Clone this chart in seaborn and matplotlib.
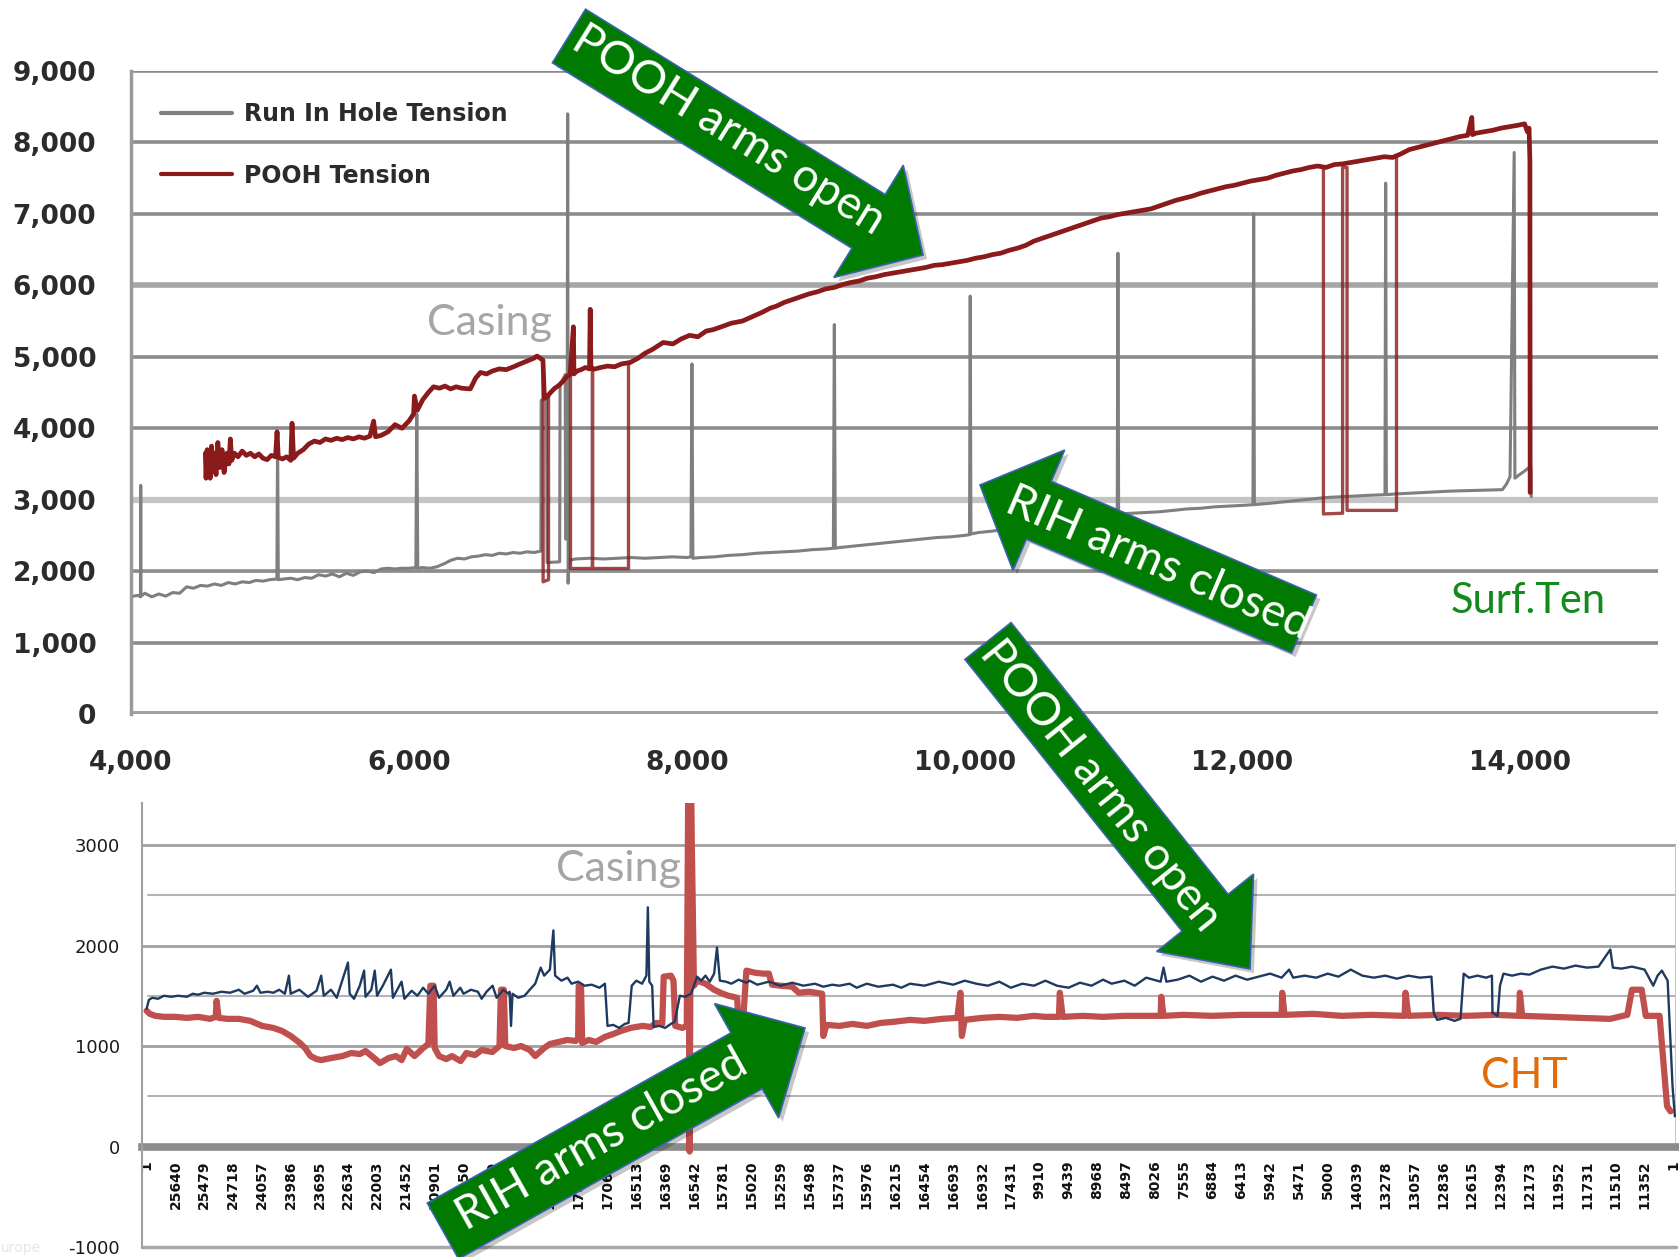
import numpy as np
import pandas as pd
import matplotlib
matplotlib.use("Agg")
import matplotlib.pyplot as plt
from matplotlib.patches import Polygon
from matplotlib.lines import Line2D
import seaborn as sns

# ---------------- data: top chart (tension vs depth) ----------------
rih_depth = [4020, 4050, 4068, 4070, 4072, 4100, 4150, 4200, 4250, 4300, 4350, 4400, 4450, 4500,
             4550, 4600, 4650, 4700, 4750, 4800, 4850, 4900, 4950, 5000, 5050, 5055, 5060, 5100,
             5150, 5200, 5250, 5300, 5350, 5400, 5450, 5500, 5550, 5600, 5650, 5700, 5750, 5800,
             5850, 5900, 5950, 6000, 6050, 6057, 6064, 6100, 6150, 6200, 6250, 6300, 6350, 6400,
             6450, 6500, 6550, 6600, 6650, 6700, 6750, 6800, 6850, 6900, 6950, 6952, 6990, 6995,
             7085, 7088, 7125, 7128, 7138, 7143, 7146, 7150, 7200, 7300, 7400, 7500, 7600, 7700,
             7800, 7900, 8000, 8030, 8037, 8044, 8100, 8200, 8300, 8400, 8500, 8600, 8700, 8800,
             8900, 9000, 9055, 9062, 9069, 9100, 9200, 9300, 9400, 9500, 9600, 9700, 9800, 9900,
             10000, 10035, 10040, 10045, 10100, 10200, 10300, 10400, 10500, 10600, 10700, 10800,
             10900, 11000, 11098, 11103, 11108, 11200, 11300, 11400, 11500, 11600, 11700, 11800,
             11900, 12000, 12075, 12080, 12085, 12200, 12300, 12400, 12500, 12600, 12700, 12800,
             12900, 13025, 13030, 13035, 13100, 13200, 13300, 13400, 13500, 13600, 13700, 13800,
             13870, 13900, 13925, 13955, 13960, 14000, 14030, 14060, 14075, 14078]
rih_tension = [1650, 1660, 1640, 3200, 1650, 1690, 1640, 1680, 1650, 1700, 1690, 1780, 1760, 1800,
               1790, 1820, 1800, 1840, 1820, 1850, 1840, 1870, 1860, 1880, 1890, 3950, 1880, 1890,
               1900, 1880, 1910, 1900, 1950, 1930, 1960, 1920, 1970, 1940, 1990, 2000, 1980, 2030,
               2040, 2030, 2040, 2040, 2050, 4200, 2040, 2050, 2040, 2060, 2100, 2150, 2180, 2170,
               2200, 2210, 2230, 2220, 2250, 2240, 2260, 2250, 2270, 2260, 2280, 4390, 4420, 2120,
               2130, 4600, 4750, 2450, 2450, 8400, 1830, 2150, 2170, 2180, 2170, 2180, 2190, 2180,
               2190, 2200, 2190, 2200, 4900, 2180, 2190, 2200, 2220, 2230, 2250, 2260, 2270, 2280,
               2300, 2310, 2320, 5450, 2320, 2330, 2350, 2370, 2390, 2410, 2430, 2450, 2470, 2480,
               2500, 2510, 5850, 2520, 2540, 2560, 2590, 2620, 2660, 2680, 2710, 2740,
               2760, 2780, 2800, 6450, 2800, 2810, 2820, 2830, 2850, 2870, 2880, 2900,
               2910, 2920, 2930, 7000, 2930, 2950, 2970, 2990, 3010, 3030, 3040, 3050,
               3060, 3070, 7430, 3070, 3080, 3090, 3100, 3110, 3120, 3125, 3130, 3135,
               3140, 3220, 3320, 7860, 3300, 3360, 3400, 3450, 3450, 3040]

pooh_depth = [4535, 4540, 4548, 4555, 4562, 4570, 4580, 4590, 4600, 4612, 4625, 4640, 4655, 4670,
              4690, 4705, 4715, 4725, 4745, 4770, 4800, 4830, 4860, 4890, 4920, 4950, 4980, 5010,
              5040, 5051, 5060, 5090, 5120, 5150, 5159, 5170, 5200, 5240, 5280, 5320, 5360, 5400,
              5440, 5480, 5520, 5560, 5600, 5640, 5680, 5720, 5746, 5760, 5800, 5850, 5900, 5950,
              6000, 6034, 6040, 6060, 6100, 6140, 6177, 6220, 6260, 6300, 6340, 6380, 6442, 6480,
              6515, 6560, 6600, 6650, 6700, 6753, 6800, 6850, 6900, 6922, 6945, 6965, 6975, 6993,
              7020, 7050, 7080, 7110, 7137, 7160, 7184, 7188, 7210, 7240, 7270, 7300, 7305, 7310,
              7330, 7380, 7430, 7480, 7530, 7592, 7650, 7700, 7750, 7830, 7900, 7960, 8020, 8080,
              8140, 8190, 8250, 8320, 8400, 8470, 8540, 8600, 8647, 8700, 8760, 8820, 8880, 8940,
              9000, 9060, 9120, 9180, 9240, 9300, 9360, 9420, 9480, 9540, 9600, 9660, 9720, 9780,
              9840, 9900, 9960, 10020, 10080, 10140, 10200, 10260, 10320, 10380, 10440, 10500,
              10560, 10620, 10680, 10740, 10800, 10860, 10920, 10980, 11040, 11100, 11160, 11220,
              11280, 11340, 11400, 11460, 11520, 11580, 11640, 11700, 11760, 11820, 11880, 11940,
              12000, 12060, 12120, 12180, 12240, 12300, 12360, 12420, 12480, 12540, 12600, 12660,
              12720, 12780, 12840, 12900, 12960, 13020, 13080, 13140, 13200, 13260, 13320, 13380,
              13440, 13500, 13560, 13620, 13650, 13655, 13680, 13740, 13800, 13860, 13920, 13980,
              14030, 14050, 14062, 14068, 14070]
pooh_tension = [3650, 3300, 3700, 3350, 3600, 3300, 3750, 3400, 3650, 3350, 3800, 3450, 3700, 3380,
                3650, 3500, 3850, 3550, 3650, 3600, 3680, 3620, 3650, 3600, 3640, 3580, 3560, 3620,
                3600, 3950, 3590, 3570, 3600, 3550, 4070, 3580, 3650, 3700, 3780, 3820, 3800, 3850,
                3830, 3860, 3840, 3870, 3850, 3880, 3860, 3890, 4100, 3880, 3900, 3950, 4050, 4000,
                4100, 4200, 4450, 4250, 4400, 4500, 4580, 4560, 4590, 4550, 4580, 4560, 4550, 4700,
                4780, 4760, 4800, 4830, 4820, 4860, 4900, 4940, 4980, 5010, 4980, 4950, 4420, 4440,
                4500, 4560, 4600, 4660, 4725, 4750, 5420, 4760, 4800, 4820, 4850, 4830, 5665, 4850,
                4825, 4850, 4870, 4860, 4900, 4920, 4980, 5050, 5100, 5200, 5180, 5250, 5300, 5280,
                5360, 5380, 5420, 5470, 5500, 5560, 5620, 5680, 5710, 5760, 5800, 5840, 5880, 5910,
                5950, 5970, 6010, 6040, 6060, 6100, 6120, 6150, 6170, 6190, 6210, 6230, 6250, 6280,
                6290, 6310, 6330, 6350, 6380, 6400, 6430, 6450, 6490, 6520, 6560, 6620,
                6660, 6700, 6740, 6780, 6820, 6860, 6900, 6940, 6960, 6990, 7010, 7030,
                7050, 7070, 7110, 7150, 7190, 7220, 7250, 7290, 7320, 7350, 7380, 7400,
                7430, 7460, 7480, 7500, 7540, 7570, 7600, 7620, 7650, 7670, 7650, 7690,
                7700, 7720, 7740, 7760, 7780, 7800, 7790, 7840, 7900, 7930, 7960, 7990,
                8020, 8050, 8080, 8100, 8350, 8110, 8130, 8150, 8170, 8200, 8220, 8240,
                8260, 8150, 8200, 7750, 3100]

# POOH excursions (separate passes)
pooh_loop1_depth = [6966, 6966, 7005, 7005]
pooh_loop1_tension = [4950, 1850, 1880, 4450]
pooh_loop2_depth = [7160, 7160, 7320, 7320, 7320, 7580, 7580]
pooh_loop2_tension = [4750, 2050, 2050, 4850, 2050, 2050, 4920]
pooh_loop3_depth = [12582, 12582, 12720, 12720, 12752, 12752, 13108, 13108]
pooh_loop3_tension = [7650, 2800, 2810, 7650, 7650, 2850, 2850, 7780]

top_yticks = [0, 1000, 2000, 3000, 4000, 5000, 6000, 7000, 8000, 9000]
top_ytick_labels = ["0", "1,000", "2,000", "3,000", "4,000", "5,000", "6,000", "7,000", "8,000", "9,000"]
top_xticks = [4000, 6000, 8000, 10000, 12000, 14000]
top_xtick_labels = ["4,000", "6,000", "8,000", "10,000", "12,000", "14,000"]
legend_labels = ["Run In Hole Tension", "POOH Tension"]

# ---------------- data: bottom chart (CHT vs sample) ----------------
blue_x = [0, 8, 20, 40, 60, 85, 110, 140, 160, 178, 200, 230, 260, 290, 320, 340, 370, 383, 395, 420,
          440, 460, 480, 494, 500, 530, 560, 590, 606, 615, 640, 660, 699, 705, 720, 740, 755, 760,
          780, 792, 800, 820, 848, 855, 870, 885, 895, 920, 940, 960, 978, 1000, 1015, 1040, 1052,
          1065, 1089, 1100, 1126, 1150, 1163, 1180, 1201, 1215, 1238, 1256, 1260, 1265, 1270, 1290,
          1312, 1330, 1349, 1368, 1380, 1400, 1412, 1418, 1440, 1461, 1475, 1498, 1520, 1545, 1572,
          1591, 1600, 1620, 1640, 1660, 1673, 1684, 1700, 1720, 1735, 1740, 1745, 1755, 1760, 1780,
          1800, 1820, 1833, 1851, 1870, 1890, 1911, 1925, 1940, 1955, 1970, 1980, 1990, 2011, 2030,
          2055, 2082, 2093, 2120, 2160, 2200, 2241, 2280, 2320, 2349, 2380, 2405, 2440, 2465, 2500,
          2540, 2591, 2620, 2650, 2700, 2750, 2800, 2840, 2880, 2920, 2960, 3000, 3040, 3080, 3120,
          3160, 3200, 3240, 3280, 3320, 3350, 3394, 3430, 3470, 3520, 3530, 3540, 3579, 3620, 3660,
          3700, 3740, 3780, 3820, 3860, 3900, 3940, 3966, 3980, 4020, 4060, 4100, 4137, 4180, 4220,
          4260, 4300, 4340, 4380, 4420, 4460, 4468, 4480, 4510, 4540, 4561, 4572, 4590, 4620, 4650,
          4670, 4672, 4690, 4698, 4710, 4740, 4770, 4800, 4840, 4880, 4920, 4960, 5000, 5040, 5081,
          5090, 5120, 5156, 5200, 5230, 5245, 5260, 5280, 5297, 5305]
blue_y = [1370, 1460, 1480, 1470, 1500, 1490, 1500, 1490, 1520, 1510, 1530, 1520, 1540, 1530, 1560,
          1520, 1550, 1600, 1530, 1540, 1530, 1560, 1520, 1700, 1520, 1560, 1490, 1550, 1700, 1500,
          1560, 1480, 1830, 1520, 1470, 1600, 1750, 1490, 1560, 1750, 1500, 1600, 1760, 1480, 1560,
          1640, 1470, 1550, 1500, 1580, 1520, 1600, 1480, 1560, 1640, 1500, 1580, 1520, 1560, 1540,
          1470, 1540, 1600, 1480, 1560, 1520, 1540, 1200, 1520, 1480, 1500, 1560, 1620, 1780, 1700,
          1760, 2150, 1700, 1650, 1680, 1620, 1640, 1600, 1610, 1580, 1620, 1200, 1210, 1180, 1220,
          1230, 1600, 1650, 1620, 1700, 2380, 1640, 1600, 1190, 1200, 1180, 1220, 1240, 1500, 1490,
          1520, 1690, 1650, 1700, 1640, 1720, 1980, 1650, 1640, 1620, 1660, 1630, 1650, 1610, 1640,
          1600, 1630, 1600, 1620, 1590, 1610, 1600, 1620, 1580, 1620, 1590, 1610, 1580, 1620, 1600,
          1640, 1610, 1650, 1620, 1600, 1640, 1580, 1620, 1600, 1650, 1600, 1580, 1630, 1600, 1660,
          1620, 1650, 1600, 1680, 1640, 1780, 1640, 1660, 1700, 1640, 1690, 1650, 1700, 1660, 1690,
          1720, 1680, 1760, 1680, 1700, 1680, 1720, 1690, 1760, 1700, 1680, 1700, 1670, 1700, 1680,
          1690, 1330, 1260, 1280, 1250, 1270, 1720, 1680, 1700, 1680, 1700, 1330, 1300, 1600, 1720,
          1700, 1720, 1710, 1760, 1790, 1770, 1800, 1780, 1790, 1960, 1780, 1770, 1790, 1760, 1600,
          1700, 1750, 1650, 600, 300]

red_x = [0, 11, 30, 60, 100, 140, 180, 220, 240, 243, 250, 280, 320, 360, 401, 440, 470, 500, 532,
         550, 569, 590, 606, 640, 680, 710, 740, 760, 790, 810, 840, 866, 885, 903, 930, 960, 978,
         985, 996, 1000, 1015, 1040, 1060, 1090, 1110, 1140, 1163, 1200, 1225, 1230, 1240, 1245,
         1275, 1300, 1330, 1349, 1380, 1400, 1430, 1460, 1490, 1498, 1500, 1508, 1512, 1535, 1560,
         1590, 1620, 1647, 1680, 1721, 1750, 1770, 1790, 1795, 1820, 1829, 1835, 1860, 1875, 1880,
         1885, 1890, 1900, 1911, 1940, 1970, 2000, 2020, 2050, 2055, 2070, 2082, 2110, 2140, 2160,
         2171, 2200, 2241, 2264, 2300, 2345, 2349, 2360, 2405, 2450, 2500, 2550, 2591, 2650, 2700,
         2760, 2814, 2825, 2830, 2840, 2900, 2960, 3022, 3080, 3120, 3167, 3170, 3180, 3250, 3320,
         3394, 3460, 3520, 3522, 3530, 3600, 3700, 3800, 3900, 3940, 3942, 3950, 4050, 4150, 4250,
         4367, 4370, 4380, 4480, 4580, 4680, 4765, 4767, 4775, 4880, 4980, 5080, 5140, 5156, 5190,
         5204, 5240, 5252, 5278, 5290]
red_y = [1350, 1320, 1300, 1290, 1290, 1280, 1290, 1270, 1290, 1450, 1280, 1270, 1270, 1250, 1200,
         1180, 1150, 1100, 1030, 980, 900, 870, 860, 880, 900, 930, 920, 950, 880, 830, 880, 900,
         860, 970, 900, 980, 1020, 1600, 1600, 980, 900, 870, 900, 850, 930, 910, 960, 940, 1000,
         1560, 1560, 1000, 980, 1000, 960, 900, 980, 1020, 1040, 1060, 1050, 1080, 1600, 1600, 1030,
         1060, 1040, 1090, 1120, 1150, 1180, 1200, 1190, 1230, 1220, 1690, 1700, 1650, 1200, 1180,
         1200, 3500, -50, 3500, 1600, 1650, 1620, 1560, 1520, 1500, 1480, 1200, 1220, 1750, 1730,
         1720, 1720, 1610, 1600, 1590, 1530, 1540, 1520, 1100, 1210, 1200, 1220, 1200, 1230, 1240,
         1260, 1250, 1270, 1280, 1530, 1100, 1260, 1280, 1290, 1280, 1300, 1290, 1290, 1530, 1290,
         1300, 1290, 1300, 1300, 1300, 1490, 1300, 1310, 1300, 1310, 1310, 1310, 1530, 1310, 1320,
         1300, 1310, 1300, 1530, 1300, 1310, 1300, 1310, 1300, 1530, 1300, 1290, 1280, 1270, 1310,
         1560, 1560, 1300, 1300, 1300, 400, 350]

bottom_yticks = [-1000, 0, 1000, 2000, 3000]
bottom_ytick_labels = ["-1000", "0", "1000", "2000", "3000"]
bottom_xtick_labels = ["1", "25640", "25479", "24718", "24057", "23986", "23695", "22634", "22003",
                       "21452", "20901", "20350", "19799", "19248", "18697", "17824", "17064",
                       "16513", "16369", "16542", "15781", "15020", "15259", "15498", "15737",
                       "15976", "16215", "16454", "16693", "16932", "17431", "9910", "9439", "8968",
                       "8497", "8026", "7555", "6884", "6413", "5942", "5471", "5000", "14039",
                       "13278", "13057", "12836", "12615", "12394", "12173", "11952", "11731",
                       "11510", "11352", "1"]

# ---------------- figure ----------------
W, H = 1679, 1257
sns.set_style("white")
plt.rcParams["font.family"] = ["DejaVu Sans"]
fig = plt.figure(figsize=(W / 100, H / 100), dpi=100)
fig.patch.set_facecolor("white")


def fx(x):
    return x / W


def fy(y):
    return 1 - y / H


RIH_C = "#7F7F7F"
POOH_C = "#8B1A1A"
BLUE_C = "#1F3A60"
RED_C = "#C0504D"
TXT_C = "#2B2B2B"

# ---------- top axes ----------
ax1 = fig.add_axes([fx(131), fy(714), (1658 - 131) / W, (714 - 71) / H])
ax1.set_xlim(4000, 14990)
ax1.set_ylim(0, 9000)

grid_cols = {0: "#A0A0A0", 1000: "#8C8C8C", 2000: "#8C8C8C", 3000: "#C4C4C4", 4000: "#8C8C8C",
             5000: "#8C8C8C", 6000: "#A6A6A6", 7000: "#8C8C8C", 8000: "#8C8C8C", 9000: "#8C8C8C"}
grid_lw = {0: 5, 1000: 2.6, 2000: 2.6, 3000: 4.5, 4000: 2.6, 5000: 2.6, 6000: 4, 7000: 2.6,
           8000: 2.6, 9000: 2.6}
for v in top_yticks:
    ax1.axhline(v, color=grid_cols[v], lw=grid_lw[v], zorder=1)
ax1.axhline(2000, color="#D0D0D0", lw=2, zorder=0.9, xmin=0, xmax=1)

sns.lineplot(x=rih_depth, y=rih_tension, sort=False, estimator=None, color=RIH_C, lw=2.2,
             ax=ax1, zorder=3)

pooh_df = pd.DataFrame({
    "depth": pooh_depth + pooh_loop1_depth + pooh_loop2_depth + pooh_loop3_depth,
    "tension": pooh_tension + pooh_loop1_tension + pooh_loop2_tension + pooh_loop3_tension,
    "seg": (["main"] * len(pooh_depth) + ["l1"] * len(pooh_loop1_depth)
            + ["l2"] * len(pooh_loop2_depth) + ["l3"] * len(pooh_loop3_depth)),
})
sns.lineplot(data=pooh_df[pooh_df.seg != "main"], x="depth", y="tension", units="seg",
             estimator=None, sort=False, color=POOH_C, lw=2.4, alpha=0.8, ax=ax1, zorder=4,
             legend=False)
sns.lineplot(data=pooh_df[pooh_df.seg == "main"], x="depth", y="tension", estimator=None,
             sort=False, color=POOH_C, lw=3.4, ax=ax1, zorder=5, legend=False)

for s in ["top", "right"]:
    ax1.spines[s].set_visible(False)
ax1.spines["left"].set_color("#9A9A9A")
ax1.spines["left"].set_linewidth(2.5)
ax1.spines["bottom"].set_visible(False)
ax1.set_yticks(top_yticks)
ax1.set_yticklabels(top_ytick_labels)
ax1.set_xticks(top_xticks)
ax1.set_xticklabels(top_xtick_labels)
ax1.tick_params(axis="y", length=8, width=2.6, color="#8C8C8C", pad=17, labelsize=19,
                labelcolor=TXT_C)
ax1.tick_params(axis="x", length=8, width=1.5, color="#A0A0A0", pad=18, labelsize=19,
                labelcolor=TXT_C)
for t in ax1.get_xticklabels() + ax1.get_yticklabels():
    t.set_fontweight("bold")
ax1.set_xlabel("")
ax1.set_ylabel("")

handles = [Line2D([], [], color=RIH_C, lw=3), Line2D([], [], color=POOH_C, lw=3)]
leg = ax1.legend(handles, legend_labels, loc="upper left", bbox_to_anchor=(0.006, 0.985),
                 frameon=False, handlelength=3.0, handletextpad=0.5,
                 labelspacing=1.6, prop={"weight": "bold", "size": 17})
for t in leg.get_texts():
    t.set_color(TXT_C)

# ---------- bottom axes ----------
ax2 = fig.add_axes([fx(142), fy(1247), (1676 - 142) / W, (1247 - 803) / H])
ax2.set_xlim(-16, 5309)
ax2.set_ylim(-1000, 3418)

for v in [3000, 2000, 1000]:
    ax2.axhline(v, color="#A0A0A0", lw=2, zorder=1)
ax2.axhline(-1000, color="#A8A8A8", lw=2.5, zorder=1, clip_on=False)
for v in [2500, 1500, 500]:
    ax2.axhline(v, color="#B4B4B4", lw=1.5, xmin=0.004, zorder=1)
ax2.axvline(5309, ymin=1000 / 4418, ymax=4000 / 4418, color="#C0C0C0", lw=2, zorder=1)

sns.lineplot(x=red_x, y=red_y, sort=False, estimator=None, color=RED_C, lw=4.5, ax=ax2, zorder=3)
sns.lineplot(x=blue_x, y=blue_y, sort=False, estimator=None, color=BLUE_C, lw=1.7, ax=ax2,
             zorder=4)

for s in ["top", "right"]:
    ax2.spines[s].set_visible(False)
ax2.spines["bottom"].set_position(("data", 0))
ax2.spines["bottom"].set_color("#8C8C8C")
ax2.spines["bottom"].set_linewidth(5.5)
ax2.spines["bottom"].set_zorder(2)
ax2.spines["left"].set_color("#A0A0A0")
ax2.spines["left"].set_linewidth(1.5)
ax2.set_yticks(bottom_yticks)
ax2.set_yticklabels(bottom_ytick_labels)
ax2.set_xticks([i * 100 for i in range(len(bottom_xtick_labels))])
ax2.set_xticklabels(bottom_xtick_labels, rotation=90, va="top", ha="center")
ax2.tick_params(axis="y", length=4, width=1.2, color="#A0A0A0", pad=12, labelsize=13,
                labelcolor="#1A1A1A")
ax2.tick_params(axis="x", length=6, width=1.2, color="#808080", pad=4, labelsize=10,
                labelcolor="#111111")
for t in ax2.get_xticklabels():
    t.set_fontweight("bold")
ax2.set_xlabel("")
ax2.set_ylabel("")

# ---------- annotations ----------
ANN_FONT = ["Lato", "DejaVu Sans"]
fig.text(fx(490), fy(323), "Casing", color="#A6A6A6", fontsize=31, family=ANN_FONT,
         ha="center", va="center")
fig.text(fx(619), fy(869), "Casing", color="#A6A6A6", fontsize=31, family=ANN_FONT,
         ha="center", va="center")
fig.text(fx(1528), fy(601), "Surf.Ten", color="#138A1B", fontsize=30, family=ANN_FONT,
         ha="center", va="center")
fig.text(fx(1524), fy(1076), "CHT", color="#E36C09", fontsize=31, family=ANN_FONT,
         ha="center", va="center")
fig.text(fx(1), fy(1248), "urope", color="#E6E6E6", fontsize=10, ha="left", va="center")


def block_arrow(tail, tip, w, hw, hl, text, tcenter):
    tx, ty = tail
    hx, hy = tip
    dx, dy = hx - tx, hy - ty
    L = np.hypot(dx, dy)
    ux, uy = dx / L, dy / L
    nx, ny = -uy, ux
    bx, by = hx - ux * hl, hy - uy * hl
    pts = [(tx + nx * w / 2, ty + ny * w / 2), (bx + nx * w / 2, by + ny * w / 2),
           (bx + nx * hw / 2, by + ny * hw / 2), (hx, hy),
           (bx - nx * hw / 2, by - ny * hw / 2), (bx - nx * w / 2, by - ny * w / 2),
           (tx - nx * w / 2, ty - ny * w / 2)]
    shadow = [(fx(px + 4), fy(py + 4)) for px, py in pts]
    fig.patches.append(Polygon(shadow, closed=True, transform=fig.transFigure,
                               facecolor="black", edgecolor="none", alpha=0.22, zorder=9))
    fig.patches.append(Polygon([(fx(px), fy(py)) for px, py in pts], closed=True,
                               transform=fig.transFigure, facecolor="#007A00",
                               edgecolor="#3A62B0", lw=1.2, zorder=10))
    rot = np.degrees(np.arctan2(-dy, dx))
    if rot > 90:
        rot -= 180
    if rot < -90:
        rot += 180
    fig.text(fx(tcenter[0]), fy(tcenter[1]), text, rotation=rot, rotation_mode="anchor",
             ha="center", va="center", color="white", fontsize=33, family=ANN_FONT, zorder=11)


block_arrow((569, 36), (923, 255), 63, 132, 64, "POOH arms open", (728, 130))
block_arrow((1304, 624), (980, 485), 63, 131, 64, "RIH arms closed", (1158, 563))
block_arrow((988, 641), (1250, 969), 59, 124, 72, "POOH arms open", (1100, 786))
block_arrow((443, 1231), (805, 1028), 64, 131, 67, "RIH arms closed", (602, 1140))

fig.savefig("out.png", dpi=100, facecolor="white")
